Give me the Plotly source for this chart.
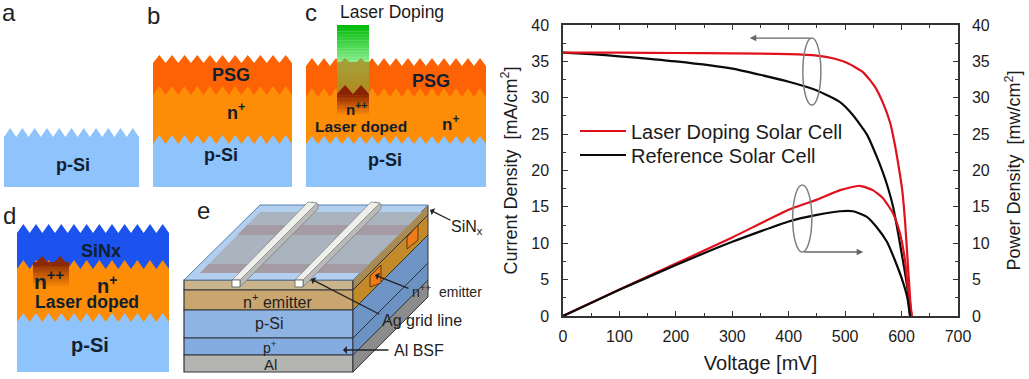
import plotly.graph_objects as go

# ---- chart data ----
laser_j_v = [0, 50, 100, 200, 300, 400, 450, 480, 503, 532, 553, 567, 580, 588, 596, 601, 606, 611, 615, 618]
laser_j = [36.2, 36.2, 36.2, 36.15, 36.1, 36.0, 35.8, 35.4, 34.8, 33.5, 31.5, 29.3, 26.5, 23.6, 20, 17.4, 13.2, 7.3, 2.5, 0]
ref_j_v = [0, 50, 100, 200, 300, 400, 450, 491, 514, 539, 556, 567, 576, 585, 597, 610, 615]
ref_j = [36.2, 36.0, 35.7, 35.0, 34.0, 32.2, 31.0, 29.4, 27.6, 24.9, 21.9, 19.7, 17.6, 15, 10, 4, 0]
laser_p_v = [0, 100, 200, 300, 400, 450, 491, 526, 549, 567, 585, 597, 606, 611, 618]
laser_p = [0, 3.65, 7.2, 10.8, 14.6, 16.0, 17.3, 17.9, 17.3, 16.2, 14.1, 11.4, 7.7, 4, 0]
ref_p_v = [0, 100, 200, 300, 400, 450, 491, 514, 539, 556, 574, 588, 601, 610, 615]
ref_p = [0, 3.6, 7.0, 10.2, 13.0, 13.9, 14.4, 14.4, 13.6, 12.2, 10.2, 7.7, 5, 2.6, 0]
legend_names = ["Laser Doping Solar Cell", "Reference Solar Cell"]
x_ticks = [0, 100, 200, 300, 400, 500, 600, 700]
y_ticks = [0, 5, 10, 15, 20, 25, 30, 35, 40]

W, H = 1029, 379
FONT = "Liberation Sans"
RED, BLACK, INK = "#e0101c", "#0a0a0a", "#1c1c1c"
BLUE, ORANGE, PSG, SINX = "#8fc3fb", "#fd8c06", "#fd6205", "#1c52ee"

shapes, notes = [], []

def fx(x): return x / W
def fy(y): return 1 - y / H

def poly(points, color, line=None, width=1):
    path = "M" + " L".join(f"{fx(x):.5f},{fy(y):.5f}" for x, y in points) + " Z"
    shapes.append(dict(type="path", path=path, xref="paper", yref="paper", fillcolor=color,
                       line=dict(color=line or color, width=width if line else 0), layer="below"))

def zig(x0, x1, teeth, peak, valley):
    step = (x1 - x0) / (2 * teeth)
    return [(x0 + i * step, (peak if i % 2 else valley)) for i in range(2 * teeth + 1)]

def mix(a, b, t):
    ca = [int(a[i:i + 2], 16) for i in (1, 3, 5)]
    cb = [int(b[i:i + 2], 16) for i in (1, 3, 5)]
    return "#" + "".join(f"{round(p + (q - p) * t):02x}" for p, q in zip(ca, cb))

def gradient(x0, x1, y0, y1, c0, c1, steps=24):
    for i in range(steps):
        ya = y0 + (y1 - y0) * i / steps
        yb = y0 + (y1 - y0) * (i + 1) / steps + 0.4
        poly([(x0, ya), (x1, ya), (x1, yb), (x0, yb)], mix(c0, c1, i / (steps - 1)))

def text(x, y, s, size=15, bold=True, color="#10202e"):
    notes.append(dict(x=fx(x), y=fy(y), xref="paper", yref="paper", showarrow=False, text=f"<b>{s}</b>" if bold else s,
                      font=dict(family=FONT, size=size, color=color), xanchor="center", yanchor="middle"))

def pointer(x0, y0, x1, y1, color="#222222", width=1.3, head=1):
    notes.append(dict(x=fx(x1), y=fy(y1), ax=x0 - x1, ay=y0 - y1, xref="paper", yref="paper", axref="pixel", ayref="pixel",
                      text="", showarrow=True, arrowhead=head, arrowsize=1, arrowwidth=width, arrowcolor=color))

def stack(x0, x1, teeth, bottom, layers):
    """layers: (peak, valley, colour), top to bottom"""
    for peak, valley, color in layers:
        poly(zig(x0, x1, teeth, peak, valley) + [(x1, bottom), (x0, bottom)], color)

# panel a
stack(4, 139, 11, 187, [(128, 137, BLUE)])
# panel b
stack(153, 292, 11, 187, [(55, 63, PSG), (86, 95, ORANGE), (135, 144, BLUE)])
# panel c
stack(306, 486, 15, 187, [(58, 66, PSG), (88, 97, ORANGE), (136, 144, BLUE)])
gradient(337, 369, 25, 62, "#04bd0a", "#86ec8a")
gradient(337, 369, 62, 95, "#a4a038", "#b08a20", steps=10)
poly(zig(337, 369, 2, 58, 66) + [(369, 62), (337, 62)], "#a4a038")
gradient(337, 369, 94, 116, "#8a2204", ORANGE, steps=16)
poly(zig(337, 369, 2, 85, 94) + [(369, 95), (337, 95)], "#8a2204")
# panel d
stack(17, 169, 12, 372, [(224, 233, SINX), (260, 269, ORANGE), (313, 322, BLUE)])
gradient(33, 69, 262, 288, "#8a2a08", ORANGE, steps=16)
poly(zig(33, 69, 2, 256, 266) + [(69, 266), (33, 266)], "#8a2a08")

# panel e: block
DX = 75
layers_e = [(280, 290, "#c9b48c", "#a88a52"), (290, 310, "#c9a670", "#c48a2a"), (310, 338, "#8fb4e3", "#6f94c6"),
            (338, 355, "#84ace0", "#6c92c4"), (355, 372, "#b4b4b0", "#8c8c8c")]
for y0, y1, face, side in layers_e:
    poly([(184, y0), (353, y0), (353, y1), (184, y1)], face, "#30343c", 1.2)
    poly([(353, y0), (353 + DX, y0 - DX), (353 + DX, y1 - DX), (353, y1)], side, "#30343c", 1.0)
poly([(184, 280), (260, 205), (428, 205), (353, 280)], "#b3cff0", "#5b7ea8", 1)

def band(y0, y1, color):
    xl = lambda y: 200 + (273 - y) * 60 / 61
    xr = lambda y: 360 + (273 - y) * 62 / 61
    poly([(xl(y1), y1), (xl(y0), y0), (xr(y0), y0), (xr(y1), y1)], color)

band(212, 273, "#a9b4bf")
band(225, 235, "#a59ba5")
band(264, 273, "#a59ba5")
poly([(370, 276), (381, 265), (381, 283), (370, 287)], "#ee7a18", "#5a3a18", 1)
poly([(407, 237), (418, 225), (418, 240), (407, 249)], "#ee7a18", "#5a3a18", 1)
for x0 in (232, 295):
    poly([(x0 + 8, 287), (x0 + 8, 280), (x0 + 80, 202), (x0 + 86, 204), (x0 + 86, 209)], "#b9bab8", "#77797a", 0.7)
    poly([(x0, 280), (x0 + 8, 280), (x0 + 85, 203), (x0 + 76, 202)], "#eeeeea", "#77797a", 0.7)
    poly([(x0, 280), (x0 + 8, 280), (x0 + 8, 287), (x0, 287)], "#ffffff", "#55585a", 0.8)

# schematic texts
for x, y, s in [(9, 12, "a"), (153, 15, "b"), (311, 12, "c"), (9, 215, "d"), (203, 210, "e")]:
    text(x, y, s, 24, False, "#222222")
text(73, 165, "p-Si", 18)
text(231, 75, "PSG", 18)
text(236, 112, "n<sup>+</sup>", 18)
text(221, 155, "p-Si", 18)
text(392, 12, "Laser Doping", 17.5, False, "#1a1a1a")
text(431, 81, "PSG", 18)
text(356, 108, "n<sup>++</sup>", 15)
text(361, 126, "Laser doped", 15.5)
text(450, 123, "n<sup>+</sup>", 17)
text(385, 160, "p-Si", 18)
text(101, 251, "SiNx", 18)
text(49, 280, "n<sup>++</sup>", 21)
text(107, 284, "n<sup>+</sup>", 20)
text(87, 302, "Laser doped", 17.5)
text(90, 345, "p-Si", 20)
text(277, 301, "n<sup>+</sup> emitter", 16, False, "#222222")
text(269, 323, "p-Si", 16, False, "#222222")
text(270, 347, "p<sup>+</sup>", 14, False, "#222222")
text(270, 364.5, "Al", 15, False, "#222222")
text(467, 227, "SiN<sub>x</sub>", 16, False, "#222222")
text(447, 291, "n<sup>++</sup>  emitter", 14, False, "#222222")
text(422, 320, "Ag grid line", 16, False, "#222222")
text(419, 350, "Al BSF", 16, False, "#222222")
pointer(452, 221, 430, 210)
pointer(410, 289, 375, 275)
pointer(381, 315, 311, 279)
pointer(390, 350, 343, 350)

# ---- chart ----
LINE_J = dict(width=2.2, shape="spline", smoothing=0.5)
fig = go.Figure()
fig.add_trace(go.Scatter(x=laser_p_v, y=laser_p, yaxis="y2", mode="lines", line=dict(color=RED, **LINE_J), showlegend=False))
fig.add_trace(go.Scatter(x=ref_p_v, y=ref_p, yaxis="y2", mode="lines", line=dict(color=BLACK, **LINE_J), showlegend=False))
fig.add_trace(go.Scatter(x=ref_j_v, y=ref_j, mode="lines", name=legend_names[1], legend="legend2", line=dict(color=BLACK, **LINE_J)))
fig.add_trace(go.Scatter(x=laser_j_v, y=laser_j, mode="lines", name=legend_names[0], legend="legend", line=dict(color=RED, **LINE_J)))

for x0, x1, y0, y1 in [(425, 457, 29.0, 38.2), (407, 441, 8.8, 18.0)]:
    shapes.append(dict(type="circle", xref="x", yref="y", x0=x0, x1=x1, y0=y0, y1=y1, line=dict(color="#808080", width=1.5), layer="above"))
for x0, y0, x1, y1 in [(441, 38.2, 331, 38.2), (425, 8.8, 532, 8.8)]:
    notes.append(dict(x=x1, y=y1, ax=x0, ay=y0, xref="x", yref="y", axref="x", ayref="y", text="", showarrow=True,
                      arrowhead=2, arrowsize=1, arrowwidth=1.3, arrowcolor="#666666"))

axis_common = dict(showgrid=False, zeroline=False, showline=True, linecolor="#333333", linewidth=1.5, ticks="inside",
                   ticklen=5, tickwidth=1.4, tickcolor="#333333", tickfont=dict(family=FONT, size=16, color=INK), automargin=False)
minor_y = dict(ticks="inside", dtick=2.5, ticklen=3, tickcolor="#333333", showgrid=False)
legend_style = dict(xanchor="left", yanchor="middle", bgcolor="rgba(0,0,0,0)", font=dict(family=FONT, size=20, color=INK), itemwidth=46)
fig.update_layout(
    width=W, height=H, margin=dict(l=0, r=0, t=0, b=0, autoexpand=False), paper_bgcolor="white", plot_bgcolor="white",
    font=dict(family=FONT, color=INK), shapes=shapes, annotations=notes,
    xaxis=dict(domain=[fx(563), fx(958)], range=[0, 700], tickvals=x_ticks, mirror="ticks", ticklabelstandoff=5,
               minor=dict(ticks="inside", dtick=50, ticklen=3, tickcolor="#333333", showgrid=False),
               title=dict(text="Voltage [mV]", font=dict(family=FONT, size=20, color=INK), standoff=12), **axis_common),
    yaxis=dict(domain=[fy(316), fy(25)], range=[0, 40], tickvals=y_ticks, ticklabelstandoff=9, minor=minor_y,
               title=dict(text="Current Density  [mA/cm<sup>2</sup>]", font=dict(family=FONT, size=18, color=INK), standoff=9), **axis_common),
    yaxis2=dict(domain=[fy(316), fy(25)], range=[0, 40], tickvals=y_ticks, overlaying="y", side="right", anchor="x", ticklabelstandoff=9, minor=minor_y,
                title=dict(text="Power Density  [mw/cm<sup>2</sup>]", font=dict(family=FONT, size=18, color=INK), standoff=19), **axis_common),
    legend=dict(x=fx(575), y=fy(131), **legend_style),
    legend2=dict(x=fx(575), y=fy(155), **legend_style),
)
fig.write_html("out.html", post_script="document.body.style.margin='0';", config=dict(displayModeBar=False))
